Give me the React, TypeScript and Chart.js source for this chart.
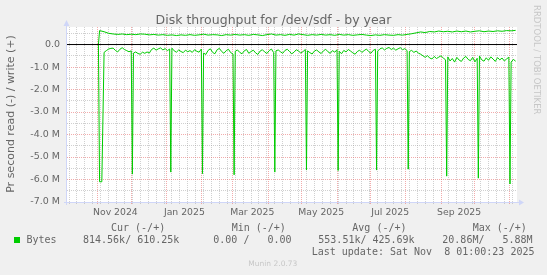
import React, { useEffect, useRef } from "react";
import { Chart, registerables } from "chart.js";

Chart.register(...registerables);

// ---------- texts ----------
const TITLE = "Disk throughput for /dev/sdf - by year";
const Y_TITLE = "Pr second read (-) / write (+)";
const WATERMARK = "RRDTOOL / TOBI OETIKER";
const MUNIN = "Munin 2.0.73";
const LEGEND_HEADERS = ["Cur (-/+)", "Min (-/+)", "Avg (-/+)", "Max (-/+)"];
const SERIES_NAME = "Bytes";
const LEGEND_VALUES = ["814.56k/ 610.25k", "0.00 /   0.00", "553.51k/ 425.69k", "20.86M/   5.88M"];
const LAST_UPDATE = "Last update: Sat Nov  8 01:00:23 2025";

// ---------- axes (x in days counted from 2024-11-01, y in millions of bytes/s) ----------
const ORIGIN = Date.UTC(2024, 10, 1);
const X_MIN = -26.8;
const X_MAX = 371.2;
const Y_MIN = -7;
const Y_MAX = 0.78;
const Y_TICKS = [-7, -6.5, -6, -5.5, -5, -4.5, -4, -3.5, -3, -2.5, -2, -1.5, -1, -0.5, 0, 0.5];
const MONTH_STARTS = [
  "2024-11-01", "2024-12-01", "2025-01-01", "2025-02-01", "2025-03-01", "2025-04-01", "2025-05-01",
  "2025-06-01", "2025-07-01", "2025-08-01", "2025-09-01", "2025-10-01", "2025-11-01",
];
const X_LABELS = ["Nov 2024", "Jan 2025", "Mar 2025", "May 2025", "Jul 2025", "Sep 2025"];
const X_LABEL_DATES = ["2024-11-17", "2025-01-17", "2025-03-18", "2025-05-18", "2025-07-18", "2025-09-17"];
const FIRST_WEEK = "2024-10-07";

// ---------- data ----------
// start of data (days 1..4)
const START_DAYS = [1, 2, 4];
const START_READ = [0, -6.1, -6.1];
const START_WRITE = [0];

// read (negative), every 2 days from day 6 to day 370
const READ_FIRST_DAY = 6;
const READ_STEP = 2;
const readBase = [
  -0.35, -0.27, -0.20, -0.17, -0.16, -0.26, -0.33, -0.21, -0.14, -0.22,
  -0.27, -0.32, -0.28, -0.38, -0.33, -0.40, -0.43, -0.34, -0.39, -0.33,
  -0.38, -0.22, -0.16, -0.25, -0.19, -0.15, -0.24, -0.18, -0.27, -0.20,
  -0.16, -0.28, -0.34, -0.24, -0.31, -0.36, -0.25, -0.32, -0.27, -0.35,
  -0.23, -0.30, -0.34, -0.20, -0.38, -0.44, -0.26, -0.19, -0.35, -0.41,
  -0.23, -0.17, -0.31, -0.39, -0.27, -0.21, -0.36, -0.42, -0.30, -0.24,
  -0.35, -0.41, -0.28, -0.22, -0.39, -0.31, -0.25, -0.37, -0.44, -0.29,
  -0.23, -0.33, -0.40, -0.27, -0.20, -0.36, -0.28, -0.24, -0.32, -0.39,
  -0.26, -0.21, -0.31, -0.41, -0.34, -0.23, -0.29, -0.38, -0.31, -0.22,
  -0.28, -0.36, -0.42, -0.29, -0.24, -0.33, -0.40, -0.28, -0.21, -0.32,
  -0.39, -0.27, -0.34, -0.23, -0.30, -0.41, -0.26, -0.33, -0.22, -0.29,
  -0.37, -0.43, -0.31, -0.25, -0.35, -0.27, -0.20, -0.31, -0.39, -0.26,
  -0.21, -0.29, -0.19, -0.15, -0.24, -0.17, -0.13, -0.22, -0.16, -0.25,
  -0.19, -0.14, -0.23, -0.18, -0.27, -0.31, -0.26, -0.35, -0.29, -0.38,
  -0.43, -0.50, -0.57, -0.49, -0.60, -0.64, -0.53, -0.62, -0.56, -0.50,
  -0.60, -0.68, -0.55, -0.73, -0.62, -0.78, -0.57, -0.69, -0.75, -0.60,
  -0.53, -0.66, -0.72, -0.57, -0.77, -0.61, -0.51, -0.68, -0.74, -0.59,
  -0.70, -0.55, -0.64, -0.75, -0.58, -0.68, -0.60, -0.73, -0.64, -0.56,
  -0.78, -0.66, -0.74,
];

// read drops (single days)
const spikeDays = [31, 65, 93, 121, 157, 185, 213, 247, 275, 309, 337, 365];
const spikeRead = [-5.76, -5.67, -5.74, -5.79, -5.67, -5.58, -5.6, -5.58, -5.54, -5.85, -5.94, -6.2];

// write (positive), every 4 days from day 2 to day 370
const WRITE_FIRST_DAY = 2;
const WRITE_STEP = 4;
const writeBase = [
  0.62, 0.57, 0.50, 0.47, 0.45, 0.47, 0.44, 0.46, 0.44, 0.47,
  0.46, 0.43, 0.45, 0.42, 0.44, 0.41, 0.43, 0.40, 0.43, 0.41,
  0.44, 0.41, 0.43, 0.46, 0.42, 0.44, 0.43, 0.40, 0.44, 0.42,
  0.45, 0.42, 0.44, 0.41, 0.45, 0.43, 0.40, 0.44, 0.47, 0.42,
  0.44, 0.41, 0.45, 0.42, 0.47, 0.44, 0.41, 0.44, 0.42, 0.45,
  0.42, 0.44, 0.41, 0.45, 0.42, 0.44, 0.41, 0.43, 0.45, 0.42,
  0.40, 0.43, 0.41, 0.44, 0.42, 0.41, 0.44, 0.42, 0.45, 0.48,
  0.52, 0.56, 0.53, 0.58, 0.56, 0.60, 0.57, 0.59, 0.56, 0.60,
  0.57, 0.60, 0.56, 0.59, 0.61, 0.57, 0.60, 0.58, 0.61, 0.59,
  0.62, 0.61, 0.63,
];

// ---------- styles ----------
const GREEN = "#00CC00";
const FONT_COLOR = "#666666";
const AXIS_COLOR = "#CFD6F8";
const GRID = "rgba(150,150,150,0.45)";
const MGRID = "rgba(230,90,90,0.5)";
const WATER = "rgba(102,102,102,0.3)";
const SANS = "'DejaVu Sans', sans-serif";
const MONO = "'DejaVu Sans Mono', monospace";

function dayOf(iso: string): number {
  const [y, m, d] = iso.split("-").map(Number);
  return (Date.UTC(y, m - 1, d) - ORIGIN) / 86400000;
}

type XT = { value: number; kind: "major" | "minor" | "label"; label: string };

function buildXTicks(): XT[] {
  const list: XT[] = [];
  const majors = new Set<number>();
  MONTH_STARTS.forEach((s) => {
    const v = dayOf(s);
    if (v >= X_MIN && v <= X_MAX) {
      majors.add(v);
      list.push({ value: v, kind: "major", label: "" });
    }
  });
  for (let d = dayOf(FIRST_WEEK); d <= X_MAX; d += 7) {
    if (d >= X_MIN && !majors.has(d)) list.push({ value: d, kind: "minor", label: "" });
  }
  X_LABEL_DATES.forEach((s, i) => list.push({ value: dayOf(s) + 0.01, kind: "label", label: X_LABELS[i] }));
  list.sort((a, b) => a.value - b.value);
  return list;
}

const X_TICKS = buildXTicks();

function yLabel(v: number): string {
  if (!Number.isInteger(v)) return "";
  if (v === 0) return "0.0";
  return v.toFixed(1) + " M";
}

const decorPlugin = {
  id: "rrdDecor",
  beforeDraw(chart: any) {
    const { ctx, chartArea: a } = chart;
    ctx.save();
    ctx.fillStyle = "#F0F0F0";
    ctx.fillRect(0, 0, chart.width, chart.height);
    ctx.fillStyle = "#FFFFFF";
    ctx.fillRect(a.left, a.top, a.right - a.left, a.bottom - a.top);
    ctx.restore();
  },
  afterDraw(chart: any) {
    const { ctx, chartArea: a } = chart;
    ctx.save();
    // axes
    ctx.strokeStyle = AXIS_COLOR;
    ctx.fillStyle = AXIS_COLOR;
    ctx.lineWidth = 1;
    ctx.beginPath();
    ctx.moveTo(a.left - 0.5, a.bottom + 3);
    ctx.lineTo(a.left - 0.5, a.top - 4);
    ctx.moveTo(a.left - 3, a.bottom + 0.5);
    ctx.lineTo(a.right + 3, a.bottom + 0.5);
    ctx.stroke();
    ctx.beginPath();
    ctx.moveTo(a.left - 0.5, a.top - 7);
    ctx.lineTo(a.left - 3.5, a.top - 1);
    ctx.lineTo(a.left + 2.5, a.top - 1);
    ctx.closePath();
    ctx.fill();
    ctx.beginPath();
    ctx.moveTo(a.right + 7, a.bottom + 0.5);
    ctx.lineTo(a.right + 2, a.bottom - 2.5);
    ctx.lineTo(a.right + 2, a.bottom + 3.5);
    ctx.closePath();
    ctx.fill();

    // title
    ctx.fillStyle = FONT_COLOR;
    ctx.textBaseline = "alphabetic";
    ctx.textAlign = "center";
    ctx.font = `12.5px ${SANS}`;
    ctx.fillText(TITLE, chart.width / 2, 24);

    // y axis title
    ctx.save();
    ctx.translate(14, 114);
    ctx.rotate(-Math.PI / 2);
    ctx.font = `11px ${SANS}`;
    ctx.fillText(Y_TITLE, 0, 0);
    ctx.restore();

    // watermark on the right
    ctx.save();
    ctx.translate(533.5, 5);
    ctx.rotate(Math.PI / 2);
    ctx.textAlign = "left";
    ctx.fillStyle = WATER;
    ctx.font = `8.5px ${SANS}`;
    ctx.fillText(WATERMARK, 0, 0);
    ctx.restore();

    // legend
    ctx.textAlign = "left";
    ctx.font = `10px ${MONO}`;
    const headX = [111, 231.7, 352.3, 472.7];
    LEGEND_HEADERS.forEach((h, i) => ctx.fillText(h, headX[i], 231));
    ctx.fillStyle = GREEN;
    ctx.fillRect(14, 237, 6, 6);
    ctx.fillStyle = FONT_COLOR;
    ctx.fillText(SERIES_NAME, 26.5, 243.3);
    const valX = [83, 213.3, 318.3, 442.3];
    LEGEND_VALUES.forEach((v, i) => ctx.fillText(v, valX[i], 243.3));
    ctx.fillText(LAST_UPDATE, 311.7, 255);

    ctx.fillStyle = WATER;
    ctx.font = `7.5px ${SANS}`;
    ctx.fillText(MUNIN, 248.3, 266);
    ctx.restore();
  },
};

export default function App() {
  const ref = useRef<HTMLCanvasElement | null>(null);

  useEffect(() => {
    const canvas = ref.current;
    if (!canvas) return;

    const readData: { x: number; y: number }[] = [];
    START_DAYS.forEach((d, i) => readData.push({ x: d, y: START_READ[i] }));
    readBase.forEach((v, i) => readData.push({ x: READ_FIRST_DAY + i * READ_STEP, y: v }));
    spikeDays.forEach((d, i) => readData.push({ x: d, y: spikeRead[i] }));
    readData.sort((p, q) => p.x - q.x);

    const writeData: { x: number; y: number }[] = [];
    START_WRITE.forEach((v, i) => writeData.push({ x: START_DAYS[i], y: v }));
    writeBase.forEach((v, i) => writeData.push({ x: WRITE_FIRST_DAY + i * WRITE_STEP, y: v }));

    const zeroData = [
      { x: X_MIN, y: 0 },
      { x: X_MAX, y: 0 },
    ];

    const xColor = (c: any) => {
      const t = X_TICKS[c.index];
      if (!t) return "rgba(0,0,0,0)";
      if (t.kind === "major") return MGRID;
      if (t.kind === "minor") return GRID;
      return "rgba(0,0,0,0)";
    };
    const yColor = (c: any) => (c.tick && Number.isInteger(c.tick.value) ? MGRID : GRID);

    const chart = new Chart(canvas, {
      type: "line",
      data: {
        datasets: [
          { label: "zero", data: zeroData, borderColor: "#000000", borderWidth: 1, order: 0 },
          { label: "write", data: writeData, borderColor: GREEN, borderWidth: 1, order: 1 },
          { label: "read", data: readData, borderColor: GREEN, borderWidth: 1, order: 2 },
        ],
      },
      options: {
        animation: false,
        responsive: false,
        maintainAspectRatio: false,
        layout: { padding: { left: 0, top: 27, right: 30, bottom: 0 } },
        elements: { point: { radius: 0 }, line: { tension: 0, fill: false } },
        plugins: {
          legend: { display: false },
          title: { display: false },
          tooltip: { enabled: false },
        },
        scales: {
          x: {
            type: "linear",
            min: X_MIN,
            max: X_MAX,
            afterBuildTicks: (s: any) => {
              s.ticks = X_TICKS.map((t) => ({ value: t.value }));
            },
            afterFit: (s: any) => {
              s.height = 73;
            },
            ticks: {
              autoSkip: false,
              maxRotation: 0,
              minRotation: 0,
              padding: 3,
              color: FONT_COLOR,
              font: { family: SANS, size: 9.3 },
              callback: (_v: any, i: number) => (X_TICKS[i] ? X_TICKS[i].label : ""),
            },
            grid: {
              color: xColor,
              lineWidth: 1,
              drawTicks: true,
              tickLength: 2,
              tickColor: xColor,
            },
            border: { display: false, dash: [1, 1] },
          },
          y: {
            type: "linear",
            min: Y_MIN,
            max: Y_MAX,
            afterBuildTicks: (s: any) => {
              s.ticks = Y_TICKS.map((v) => ({ value: v }));
            },
            afterFit: (s: any) => {
              s.width = 67;
            },
            ticks: {
              autoSkip: false,
              padding: 7,
              color: FONT_COLOR,
              font: { family: SANS, size: 9.5 },
              callback: (v: any) => yLabel(Number(v)),
            },
            grid: { color: yColor, lineWidth: 1, drawTicks: false },
            border: { display: false, dash: [1, 1] },
          },
        },
      },
      plugins: [decorPlugin],
    } as any);

    return () => chart.destroy();
  }, []);

  return (
    <div style={{ position: "absolute", left: 0, top: 0, width: 547, height: 275 }}>
      <canvas ref={ref} width={547} height={275} style={{ display: "block", width: 547, height: 275 }} />
    </div>
  );
}
